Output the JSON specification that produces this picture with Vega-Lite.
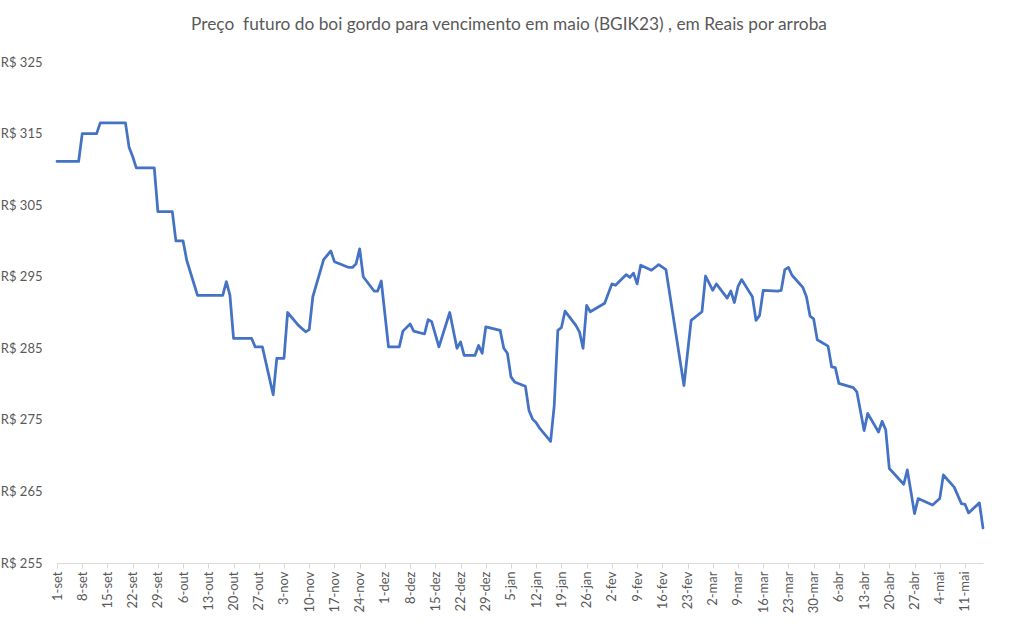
{
  "$schema": "https://vega.github.io/schema/vega-lite/v6.json",
  "autosize": {"type": "none"},
  "width": 926,
  "height": 501,
  "padding": {"left": 57, "top": 62, "right": 30, "bottom": 67},
  "background": "white",
  "title": {
    "text": "Preço \u00a0futuro do boi gordo para vencimento em maio (BGIK23) , em Reais por arroba",
    "anchor": "middle",
    "frame": "group",
    "dx": -11,
    "offset": 23,
    "font": "Lato",
    "fontSize": 17.3,
    "fontWeight": "normal",
    "color": "#595959"
  },
  "config": {
    "view": {"stroke": null},
    "axis": {"labelFont": "Lato", "labelFontSize": 13, "labelColor": "#595959"}
  },
  "data": {
    "values": [
      {"date": "2022-09-01", "preco": 311.1},
      {"date": "2022-09-07", "preco": 311.1},
      {"date": "2022-09-08", "preco": 315.0},
      {"date": "2022-09-12", "preco": 315.0},
      {"date": "2022-09-13", "preco": 316.5},
      {"date": "2022-09-20", "preco": 316.5},
      {"date": "2022-09-21", "preco": 313.1},
      {"date": "2022-09-22", "preco": 311.8},
      {"date": "2022-09-23", "preco": 310.2},
      {"date": "2022-09-28", "preco": 310.2},
      {"date": "2022-09-29", "preco": 304.1},
      {"date": "2022-10-03", "preco": 304.1},
      {"date": "2022-10-04", "preco": 300.0},
      {"date": "2022-10-06", "preco": 300.0},
      {"date": "2022-10-07", "preco": 297.3},
      {"date": "2022-10-10", "preco": 292.4},
      {"date": "2022-10-17", "preco": 292.4},
      {"date": "2022-10-18", "preco": 294.3},
      {"date": "2022-10-19", "preco": 292.4},
      {"date": "2022-10-20", "preco": 286.4},
      {"date": "2022-10-25", "preco": 286.4},
      {"date": "2022-10-26", "preco": 285.2},
      {"date": "2022-10-28", "preco": 285.2},
      {"date": "2022-10-31", "preco": 278.5},
      {"date": "2022-11-01", "preco": 283.6},
      {"date": "2022-11-03", "preco": 283.6},
      {"date": "2022-11-04", "preco": 290.0},
      {"date": "2022-11-07", "preco": 288.2},
      {"date": "2022-11-09", "preco": 287.3},
      {"date": "2022-11-10", "preco": 287.6},
      {"date": "2022-11-11", "preco": 292.2},
      {"date": "2022-11-14", "preco": 297.4},
      {"date": "2022-11-16", "preco": 298.6},
      {"date": "2022-11-17", "preco": 297.1},
      {"date": "2022-11-21", "preco": 296.3},
      {"date": "2022-11-22", "preco": 296.3},
      {"date": "2022-11-23", "preco": 296.8},
      {"date": "2022-11-24", "preco": 298.9},
      {"date": "2022-11-25", "preco": 295.0},
      {"date": "2022-11-28", "preco": 293.0},
      {"date": "2022-11-29", "preco": 293.0},
      {"date": "2022-11-30", "preco": 294.4},
      {"date": "2022-12-02", "preco": 285.2},
      {"date": "2022-12-05", "preco": 285.2},
      {"date": "2022-12-06", "preco": 287.4},
      {"date": "2022-12-08", "preco": 288.4},
      {"date": "2022-12-09", "preco": 287.4},
      {"date": "2022-12-12", "preco": 287.0},
      {"date": "2022-12-13", "preco": 289.0},
      {"date": "2022-12-14", "preco": 288.7},
      {"date": "2022-12-16", "preco": 285.2},
      {"date": "2022-12-19", "preco": 290.0},
      {"date": "2022-12-21", "preco": 285.0},
      {"date": "2022-12-22", "preco": 285.9},
      {"date": "2022-12-23", "preco": 284.0},
      {"date": "2022-12-26", "preco": 284.0},
      {"date": "2022-12-27", "preco": 285.4},
      {"date": "2022-12-28", "preco": 284.3},
      {"date": "2022-12-29", "preco": 288.0},
      {"date": "2023-01-02", "preco": 287.5},
      {"date": "2023-01-03", "preco": 285.0},
      {"date": "2023-01-04", "preco": 284.3},
      {"date": "2023-01-05", "preco": 281.0},
      {"date": "2023-01-06", "preco": 280.3},
      {"date": "2023-01-09", "preco": 279.7},
      {"date": "2023-01-10", "preco": 276.3},
      {"date": "2023-01-11", "preco": 275.1},
      {"date": "2023-01-12", "preco": 274.6},
      {"date": "2023-01-13", "preco": 273.8},
      {"date": "2023-01-16", "preco": 272.0},
      {"date": "2023-01-17", "preco": 277.0},
      {"date": "2023-01-18", "preco": 287.5},
      {"date": "2023-01-19", "preco": 287.9},
      {"date": "2023-01-20", "preco": 290.2},
      {"date": "2023-01-23", "preco": 288.2},
      {"date": "2023-01-24", "preco": 287.3},
      {"date": "2023-01-25", "preco": 285.0},
      {"date": "2023-01-26", "preco": 291.0},
      {"date": "2023-01-27", "preco": 290.1},
      {"date": "2023-01-31", "preco": 291.3},
      {"date": "2023-02-02", "preco": 294.0},
      {"date": "2023-02-03", "preco": 293.8},
      {"date": "2023-02-06", "preco": 295.3},
      {"date": "2023-02-07", "preco": 294.9},
      {"date": "2023-02-08", "preco": 295.5},
      {"date": "2023-02-09", "preco": 294.0},
      {"date": "2023-02-10", "preco": 296.6},
      {"date": "2023-02-13", "preco": 295.9},
      {"date": "2023-02-15", "preco": 296.7},
      {"date": "2023-02-17", "preco": 296.0},
      {"date": "2023-02-22", "preco": 279.8},
      {"date": "2023-02-24", "preco": 288.9},
      {"date": "2023-02-27", "preco": 290.1},
      {"date": "2023-02-28", "preco": 295.1},
      {"date": "2023-03-02", "preco": 293.1},
      {"date": "2023-03-03", "preco": 294.0},
      {"date": "2023-03-06", "preco": 292.0},
      {"date": "2023-03-07", "preco": 293.0},
      {"date": "2023-03-08", "preco": 291.4},
      {"date": "2023-03-09", "preco": 293.6},
      {"date": "2023-03-10", "preco": 294.6},
      {"date": "2023-03-13", "preco": 292.2},
      {"date": "2023-03-14", "preco": 288.9},
      {"date": "2023-03-15", "preco": 289.6},
      {"date": "2023-03-16", "preco": 293.1},
      {"date": "2023-03-20", "preco": 293.0},
      {"date": "2023-03-21", "preco": 293.1},
      {"date": "2023-03-22", "preco": 296.0},
      {"date": "2023-03-23", "preco": 296.3},
      {"date": "2023-03-24", "preco": 295.2},
      {"date": "2023-03-27", "preco": 293.5},
      {"date": "2023-03-28", "preco": 292.2},
      {"date": "2023-03-29", "preco": 289.5},
      {"date": "2023-03-30", "preco": 289.1},
      {"date": "2023-03-31", "preco": 286.2},
      {"date": "2023-04-03", "preco": 285.3},
      {"date": "2023-04-04", "preco": 282.4},
      {"date": "2023-04-05", "preco": 282.3},
      {"date": "2023-04-06", "preco": 280.1},
      {"date": "2023-04-10", "preco": 279.5},
      {"date": "2023-04-11", "preco": 278.9},
      {"date": "2023-04-13", "preco": 273.5},
      {"date": "2023-04-14", "preco": 275.9},
      {"date": "2023-04-17", "preco": 273.3},
      {"date": "2023-04-18", "preco": 274.8},
      {"date": "2023-04-19", "preco": 273.6},
      {"date": "2023-04-20", "preco": 268.2},
      {"date": "2023-04-24", "preco": 266.0},
      {"date": "2023-04-25", "preco": 268.0},
      {"date": "2023-04-27", "preco": 261.9},
      {"date": "2023-04-28", "preco": 264.0},
      {"date": "2023-05-02", "preco": 263.1},
      {"date": "2023-05-04", "preco": 264.0},
      {"date": "2023-05-05", "preco": 267.3},
      {"date": "2023-05-08", "preco": 265.6},
      {"date": "2023-05-10", "preco": 263.3},
      {"date": "2023-05-11", "preco": 263.2},
      {"date": "2023-05-12", "preco": 262.0},
      {"date": "2023-05-15", "preco": 263.4},
      {"date": "2023-05-16", "preco": 259.9}
    ]
  },
  "mark": {"type": "line", "color": "#4472C4", "strokeWidth": 2.75, "strokeJoin": "round", "strokeCap": "round"},
  "encoding": {
    "x": {
      "field": "date",
      "type": "temporal",
      "scale": {
        "type": "utc",
        "domain": [
          {"year": 2022, "month": 9, "date": 1, "utc": true},
          {"year": 2023, "month": 5, "date": 16, "utc": true}
        ]
      },
      "axis": {
        "title": null,
        "values": [
          {"year": 2022, "month": 9, "date": 1, "utc": true},
          {"year": 2022, "month": 9, "date": 8, "utc": true},
          {"year": 2022, "month": 9, "date": 15, "utc": true},
          {"year": 2022, "month": 9, "date": 22, "utc": true},
          {"year": 2022, "month": 9, "date": 29, "utc": true},
          {"year": 2022, "month": 10, "date": 6, "utc": true},
          {"year": 2022, "month": 10, "date": 13, "utc": true},
          {"year": 2022, "month": 10, "date": 20, "utc": true},
          {"year": 2022, "month": 10, "date": 27, "utc": true},
          {"year": 2022, "month": 11, "date": 3, "utc": true},
          {"year": 2022, "month": 11, "date": 10, "utc": true},
          {"year": 2022, "month": 11, "date": 17, "utc": true},
          {"year": 2022, "month": 11, "date": 24, "utc": true},
          {"year": 2022, "month": 12, "date": 1, "utc": true},
          {"year": 2022, "month": 12, "date": 8, "utc": true},
          {"year": 2022, "month": 12, "date": 15, "utc": true},
          {"year": 2022, "month": 12, "date": 22, "utc": true},
          {"year": 2022, "month": 12, "date": 29, "utc": true},
          {"year": 2023, "month": 1, "date": 5, "utc": true},
          {"year": 2023, "month": 1, "date": 12, "utc": true},
          {"year": 2023, "month": 1, "date": 19, "utc": true},
          {"year": 2023, "month": 1, "date": 26, "utc": true},
          {"year": 2023, "month": 2, "date": 2, "utc": true},
          {"year": 2023, "month": 2, "date": 9, "utc": true},
          {"year": 2023, "month": 2, "date": 16, "utc": true},
          {"year": 2023, "month": 2, "date": 23, "utc": true},
          {"year": 2023, "month": 3, "date": 2, "utc": true},
          {"year": 2023, "month": 3, "date": 9, "utc": true},
          {"year": 2023, "month": 3, "date": 16, "utc": true},
          {"year": 2023, "month": 3, "date": 23, "utc": true},
          {"year": 2023, "month": 3, "date": 30, "utc": true},
          {"year": 2023, "month": 4, "date": 6, "utc": true},
          {"year": 2023, "month": 4, "date": 13, "utc": true},
          {"year": 2023, "month": 4, "date": 20, "utc": true},
          {"year": 2023, "month": 4, "date": 27, "utc": true},
          {"year": 2023, "month": 5, "date": 4, "utc": true},
          {"year": 2023, "month": 5, "date": 11, "utc": true}
        ],
        "labelExpr": "utcdate(datum.value) + '-' + ['jan','fev','mar','abr','mai','jun','jul','ago','set','out','nov','dez'][utcmonth(datum.value)]",
        "labelAngle": -90,
        "labelAlign": "right",
        "labelBaseline": "middle",
        "labelPadding": 3,
        "labelOverlap": false,
        "labelFlush": false,
        "grid": false,
        "domainColor": "#D9D9D9",
        "tickColor": "#D9D9D9",
        "tickSize": 5,
        "domainWidth": 1
      }
    },
    "y": {
      "field": "preco",
      "type": "quantitative",
      "scale": {"domain": [255, 325], "nice": false, "zero": false},
      "axis": {
        "title": null,
        "values": [255, 265, 275, 285, 295, 305, 315, 325],
        "labelExpr": "'R$ ' + datum.value",
        "domain": false,
        "ticks": false,
        "grid": false,
        "labelPadding": 15
      }
    }
  }
}
